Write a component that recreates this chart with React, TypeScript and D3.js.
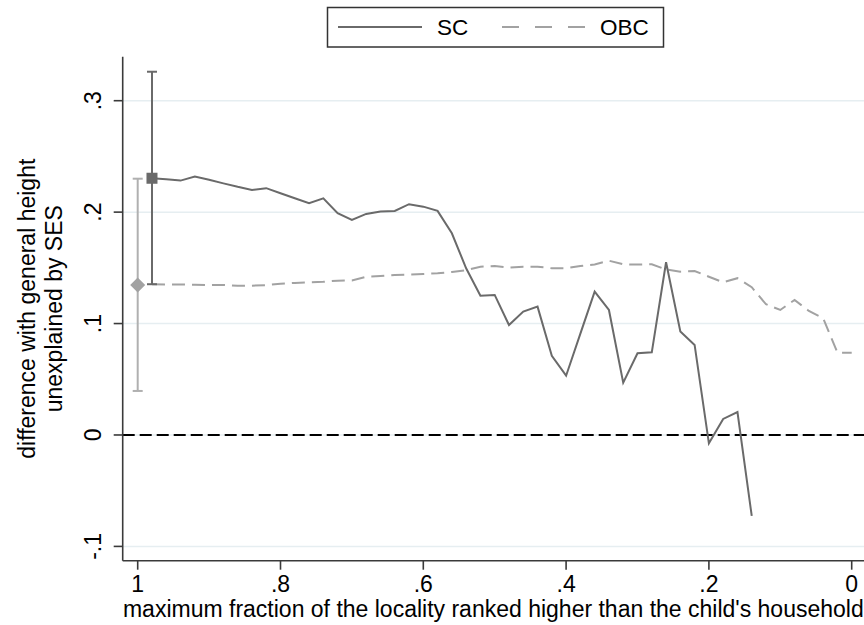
import React from "react";
import * as d3 from "d3";

// Fraction of locality ranked higher (x), from 0.98 down to 0.00 in steps of 0.02
const scX: number[] = [
  0.98, 0.96, 0.94, 0.92, 0.9, 0.88, 0.86, 0.84, 0.82, 0.8, 0.78, 0.76, 0.74, 0.72,
  0.7, 0.68, 0.66, 0.64, 0.62, 0.6, 0.58, 0.56, 0.54, 0.52, 0.5, 0.48, 0.46, 0.44,
  0.42, 0.4, 0.38, 0.36, 0.34, 0.32, 0.3, 0.28, 0.26, 0.24, 0.22, 0.2, 0.18, 0.16, 0.14,
];
const scY: number[] = [
  0.2304, 0.2294, 0.2283, 0.2319, 0.229, 0.2258, 0.2227, 0.2199, 0.2215, 0.217, 0.2124,
  0.208, 0.2123, 0.199, 0.193, 0.1984, 0.2006, 0.2011, 0.2071, 0.2049, 0.2011, 0.181,
  0.1496, 0.125, 0.1257, 0.0987, 0.1107, 0.1152, 0.071, 0.0532, 0.091, 0.1286, 0.1122,
  0.047, 0.0733, 0.0742, 0.155, 0.0928, 0.0808, -0.0075, 0.0144, 0.0206, -0.0727,
];

const obcX: number[] = [
  0.98, 0.96, 0.94, 0.92, 0.9, 0.88, 0.86, 0.84, 0.82, 0.8, 0.78, 0.76, 0.74, 0.72,
  0.7, 0.68, 0.66, 0.64, 0.62, 0.6, 0.58, 0.56, 0.54, 0.52, 0.5, 0.48, 0.46, 0.44,
  0.42, 0.4, 0.38, 0.36, 0.34, 0.32, 0.3, 0.28, 0.26, 0.24, 0.22, 0.2, 0.18, 0.16,
  0.14, 0.12, 0.1, 0.08, 0.06, 0.04, 0.02, 0.0,
];
const obcY: number[] = [
  0.1353, 0.135, 0.135, 0.1348, 0.1345, 0.1346, 0.134, 0.134, 0.1345, 0.1357, 0.1365,
  0.137, 0.1375, 0.1385, 0.1387, 0.142, 0.1427, 0.1436, 0.1439, 0.1445, 0.1451, 0.1463,
  0.1478, 0.151, 0.1517, 0.1502, 0.151, 0.151, 0.1496, 0.1496, 0.1517, 0.153, 0.1564,
  0.1532, 0.1529, 0.1532, 0.1485, 0.1466, 0.1472, 0.142, 0.137, 0.1407, 0.1326, 0.1173,
  0.1122, 0.1212, 0.1113, 0.1047, 0.0739, 0.0739,
];

// Whole-sample estimates with confidence intervals: [x, estimate, lower, upper]
const scEstimate: number[] = [0.98, 0.2304, 0.1353, 0.326];
const obcEstimate: number[] = [1.0, 0.1346, 0.0395, 0.23];

const xTicks: number[] = [1, 0.8, 0.6, 0.4, 0.2, 0];
const xTickLabels: string[] = ["1", ".8", ".6", ".4", ".2", "0"];
const yTicks: number[] = [-0.1, 0, 0.1, 0.2, 0.3];
const yTickLabels: string[] = ["-.1", "0", ".1", ".2", ".3"];

const legendLabels: string[] = ["SC", "OBC"];
const xTitle = "maximum fraction of the locality ranked higher than the child's household";
const yTitle: string[] = ["difference with general height", "unexplained by SES"];

const W = 864;
const H = 625;
const FONT = "'Liberation Sans', Arial, Helvetica, sans-serif";
const SC_COLOR = "#6a6a6a";
const OBC_COLOR = "#a2a2a2";
const GRID = "#e6eef1";

export default function App() {
  const plot = { left: 122.7, right: 864, top: 56.7, bottom: 560.7 };
  const x = d3.scaleLinear().domain([1, 0]).range([137.7, 851.7]);
  const y = d3.scaleLinear().domain([0.3, -0.1]).range([100.7, 546.4]);

  const line = d3
    .line<[number, number]>()
    .x((d) => x(d[0]))
    .y((d) => y(d[1]));

  const scPath = line(scX.map((v, i) => [v, scY[i]]) as [number, number][]) || "";
  const obcPath = line(obcX.map((v, i) => [v, obcY[i]]) as [number, number][]) || "";

  const capHalf = 5;
  const errBar = (e: number[], color: string) => {
    const cx = x(e[0]);
    return (
      <g stroke={color} strokeWidth={2} fill="none">
        <line x1={cx} x2={cx} y1={y(e[2])} y2={y(e[3])} />
        <line x1={cx - capHalf} x2={cx + capHalf} y1={y(e[2])} y2={y(e[2])} />
        <line x1={cx - capHalf} x2={cx + capHalf} y1={y(e[3])} y2={y(e[3])} />
      </g>
    );
  };

  const sqSize = 11;
  const dia = 7.5;
  const ox = x(obcEstimate[0]);
  const oy = y(obcEstimate[1]);

  return (
    <svg
      width={W}
      height={H}
      viewBox={`0 0 ${W} ${H}`}
      style={{ position: "absolute", left: 0, top: 0, display: "block", background: "#fff" }}
      fontFamily={FONT}
    >
      <rect x={0} y={0} width={W} height={H} fill="#fff" />

      {/* horizontal grid */}
      {yTicks.map((t) => (
        <line
          key={`g${t}`}
          x1={plot.left}
          x2={plot.right}
          y1={y(t)}
          y2={y(t)}
          stroke={GRID}
          strokeWidth={1.5}
        />
      ))}

      {/* reference line at zero */}
      <line
        x1={plot.left}
        x2={plot.right}
        y1={y(0)}
        y2={y(0)}
        stroke="#000"
        strokeWidth={2}
        strokeDasharray="12,5"
      />

      {/* series */}
      <path d={obcPath} fill="none" stroke={OBC_COLOR} strokeWidth={2} strokeDasharray="13,7" />
      <path d={scPath} fill="none" stroke={SC_COLOR} strokeWidth={2} strokeLinejoin="miter" />

      {/* confidence intervals and point estimates */}
      {errBar(obcEstimate, "#b0b0b0")}
      {errBar(scEstimate, SC_COLOR)}
      <rect
        x={x(scEstimate[0]) - sqSize / 2}
        y={y(scEstimate[1]) - sqSize / 2}
        width={sqSize}
        height={sqSize}
        fill={SC_COLOR}
      />
      <path
        d={`M${ox},${oy - dia} L${ox + dia},${oy} L${ox},${oy + dia} L${ox - dia},${oy} Z`}
        fill={OBC_COLOR}
      />

      {/* axes */}
      <line x1={plot.left} x2={plot.left} y1={plot.top} y2={plot.bottom} stroke="#3a3a3a" strokeWidth={1.6} />
      <line x1={plot.left} x2={plot.right} y1={plot.bottom} y2={plot.bottom} stroke="#3a3a3a" strokeWidth={1.6} />

      {yTicks.map((t, i) => (
        <g key={`yt${t}`}>
          <line x1={plot.left - 9} x2={plot.left} y1={y(t)} y2={y(t)} stroke="#3a3a3a" strokeWidth={1.6} />
          <text
            transform={`translate(101,${y(t)}) rotate(-90)`}
            textAnchor="middle"
            fontSize={23}
            fill="#000"
          >
            {yTickLabels[i]}
          </text>
        </g>
      ))}

      {xTicks.map((t, i) => (
        <g key={`xt${t}`}>
          <line x1={x(t)} x2={x(t)} y1={plot.bottom} y2={plot.bottom + 9} stroke="#3a3a3a" strokeWidth={1.6} />
          <text x={x(t)} y={591.5} textAnchor="middle" fontSize={23} fill="#000">
            {xTickLabels[i]}
          </text>
        </g>
      ))}

      {/* axis titles */}
      <text x={(plot.left + plot.right) / 2} y={617} textAnchor="middle" fontSize={23} fill="#000">
        {xTitle}
      </text>
      {yTitle.map((t, i) => (
        <text
          key={t}
          transform={`translate(${35 + i * 26.5},308.7) rotate(-90)`}
          textAnchor="middle"
          fontSize={23}
          fill="#000"
        >
          {t}
        </text>
      ))}

      {/* legend */}
      <g>
        <rect x={327.5} y={7.5} width={336} height={39.5} fill="#fff" stroke="#333" strokeWidth={1.5} />
        <line x1={338} x2={422} y1={27} y2={27} stroke={SC_COLOR} strokeWidth={2} />
        <text x={437} y={35} fontSize={22.5} fill="#000">
          {legendLabels[0]}
        </text>
        <line x1={502} x2={587} y1={27} y2={27} stroke={OBC_COLOR} strokeWidth={2} strokeDasharray="17,16" />
        <text x={600} y={35} fontSize={22.5} fill="#000">
          {legendLabels[1]}
        </text>
      </g>
    </svg>
  );
}
